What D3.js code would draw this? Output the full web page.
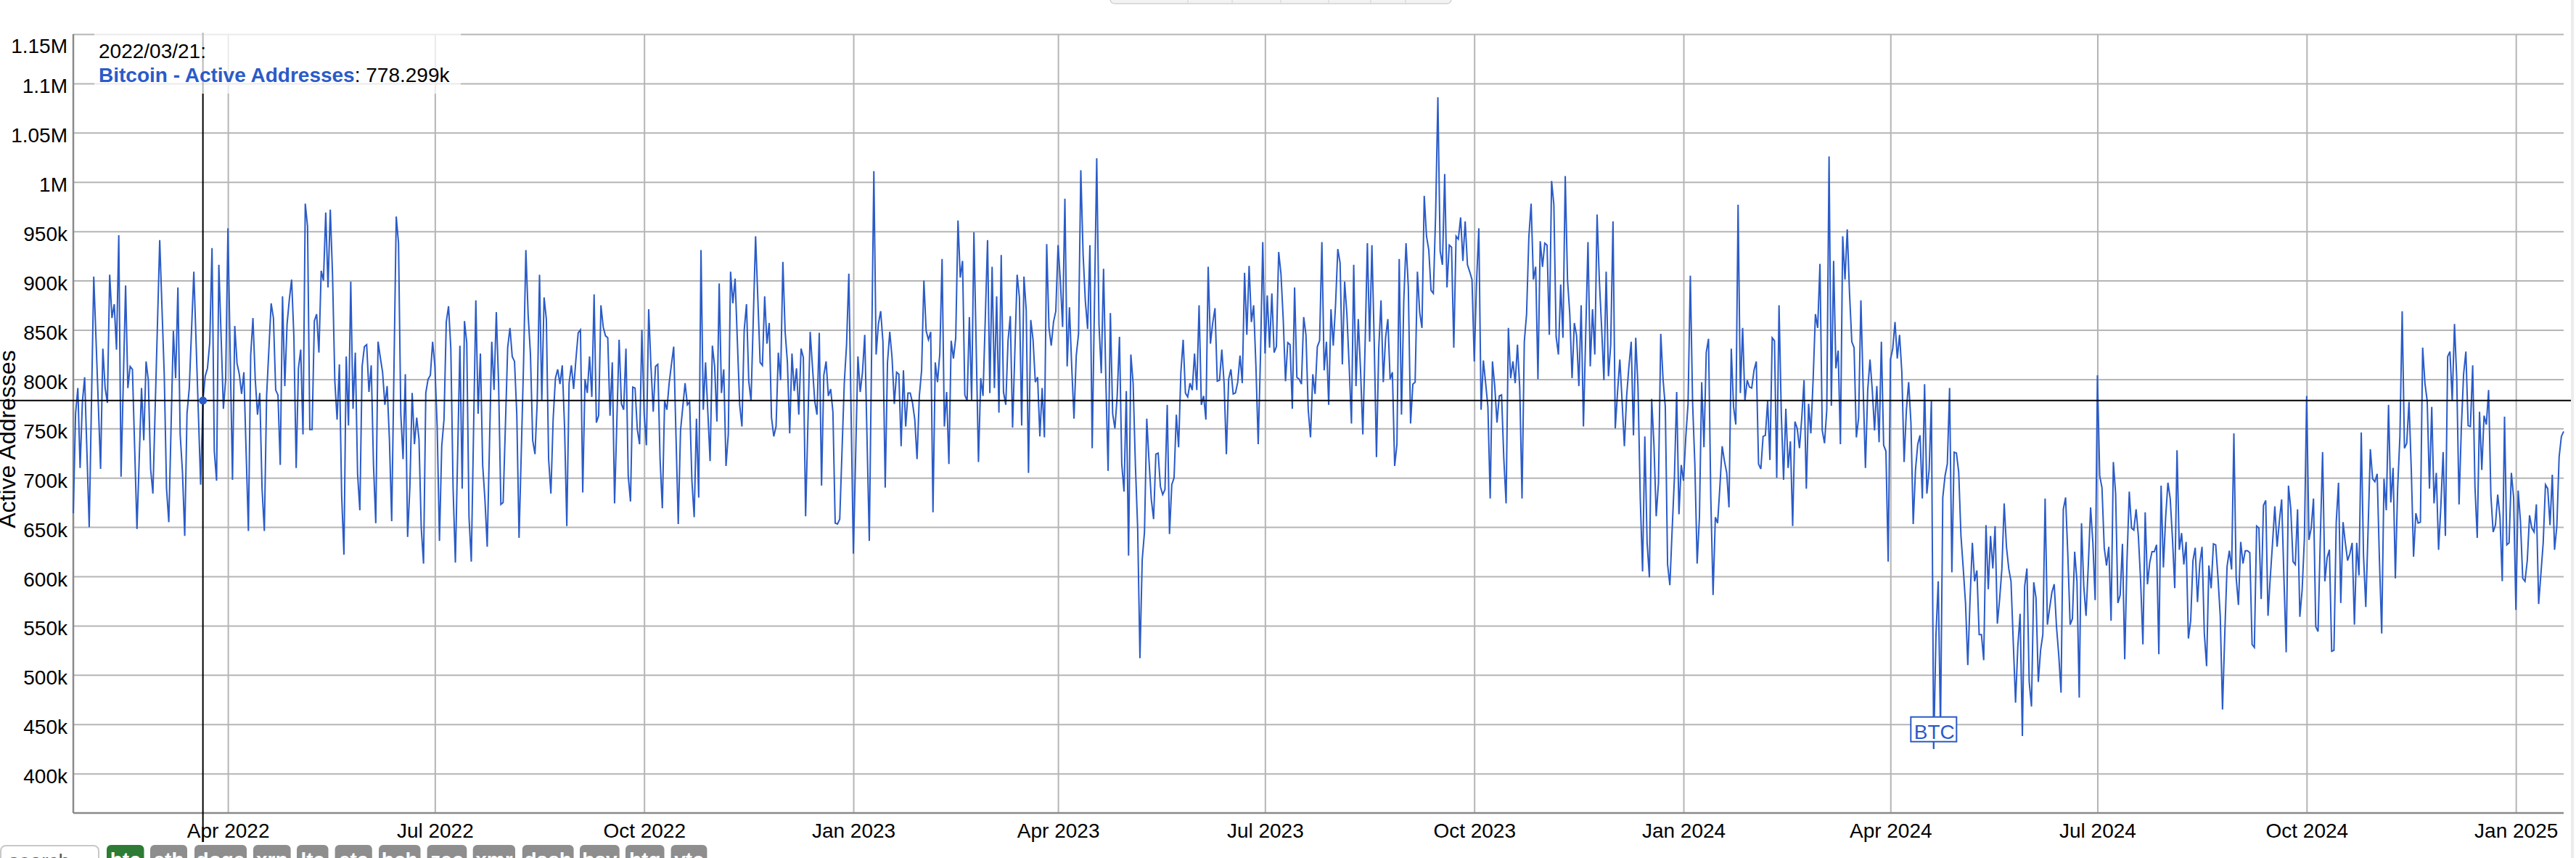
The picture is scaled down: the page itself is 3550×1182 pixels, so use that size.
<!DOCTYPE html>
<html><head><meta charset="utf-8">
<script src="https://cdn.jsdelivr.net/npm/d3@7"></script>
<style>
html,body{margin:0;padding:0;background:#fff;overflow:hidden;}
svg{display:block;font-family:"Liberation Sans",Arial,Helvetica,sans-serif;}
</style></head><body>
<svg id="chart" width="3550" height="1182"></svg>
<script>
// ---------------- DATA ----------------
const startDate = "2022-01-23";          // first daily observation
const seriesName = "Bitcoin - Active Addresses";
const yAxisTitle = "Active Addresses";
// daily active addresses, thousands
const activeAddressesK = [
664,765,791,710,777,802,726,650,777,904,840,775,709,831,791,776,906,862,876,830,
946,701,798,895,791,813,810,729,648,720,791,738,818,799,709,684,770,855,941,872,
804,689,655,752,849,801,893,744,706,641,765,791,850,909,837,765,693,778.299,803,811,
837,933,727,697,916,843,770,800,953,825,698,854,816,805,785,807,726,646,824,862,
800,764,786,689,646,783,830,877,862,789,784,713,884,793,856,881,901,843,710,811,
830,744,978,955,749,749,859,866,827,910,900,969,893,972,905,798,759,815,682,622,
823,753,899,770,827,704,667,813,833,835,787,814,713,654,838,822,807,774,793,739,
656,810,965,938,765,719,805,640,691,786,734,761,739,649,613,786,800,804,838,813,
752,636,732,759,858,874,831,689,614,724,834,689,859,837,660,615,748,880,765,826,
713,678,630,734,838,789,868,796,673,675,753,832,852,823,818,765,639,728,818,931,
865,826,738,724,778,906,778,883,861,719,684,760,801,810,795,814,752,651,796,814,
790,820,847,850,685,800,786,823,782,886,756,763,875,853,844,842,763,817,674,757,
840,775,769,831,702,676,792,791,749,734,850,765,733,871,813,767,813,815,719,669,
778,769,796,815,833,743,653,748,772,796,774,777,697,660,760,680,931,769,817,767,
717,834,813,757,897,786,810,712,744,909,877,902,838,774,752,850,876,798,778,862,
945,881,817,814,884,836,857,761,742,752,827,799,919,848,817,745,826,788,811,764,
831,822,661,755,848,813,778,764,847,692,804,818,783,790,767,654,653,658,727,796,
835,907,765,623,723,823,787,807,845,740,636,824,1011,825,856,869,838,690,817,848,
822,775,807,805,732,809,752,786,786,776,759,719,783,809,900,849,840,848,665,817,
797,826,922,752,787,714,839,821,842,961,903,920,784,778,863,779,949,833,716,801,
783,862,941,786,914,791,884,766,926,787,774,839,864,751,828,906,883,753,904,870,
705,860,840,797,802,742,791,741,937,852,834,858,869,936,900,853,983,813,873,813,
760,824,846,1012,927,879,851,936,730,877,1024,855,806,912,800,707,867,765,750,783,
843,714,686,788,621,825,796,713,649,517,617,645,760,717,678,658,724,725,691,683,
688,774,643,693,700,764,731,807,840,786,782,796,789,826,789,875,774,783,759,914,
836,857,872,798,799,830,796,724,800,810,785,786,797,824,796,908,845,915,858,875,
813,734,823,939,826,885,832,887,827,833,929,907,861,798,837,835,770,893,802,800,
795,863,845,769,741,805,785,833,839,939,809,838,774,871,834,875,932,918,815,899,
866,813,755,916,793,861,809,744,835,938,838,936,839,721,831,880,797,842,861,800,
807,712,734,922,764,879,938,894,755,795,797,909,868,852,986,945,931,890,887,966,
1086,930,916,1008,893,936,934,832,945,942,964,920,960,916,909,901,818,898,953,769,
819,796,772,679,818,793,756,783,784,719,674,852,801,818,796,835,791,679,838,866,
944,978,901,914,800,940,914,938,936,845,1001,977,843,825,896,842,1006,901,866,801,
857,844,793,875,752,846,939,813,871,825,967,900,852,799,909,803,835,960,750,787,
820,778,732,783,813,838,743,842,791,678,605,742,634,599,780,734,661,695,846,800,
772,612,591,647,700,787,663,713,697,741,775,905,776,713,613,660,797,731,827,841,
680,581,660,654,691,732,717,705,670,831,772,754,977,786,852,778,799,792,791,809,
818,714,709,742,743,778,718,842,839,700,875,765,698,770,710,737,651,757,750,730,
761,799,689,775,745,800,866,852,917,748,735,769,1026,773,920,811,829,734,945,901,
952,887,838,832,741,761,880,791,710,789,820,789,748,793,736,838,733,727,615,820,
831,858,821,845,807,716,769,797,756,653,708,734,743,679,795,684,708,778,425,540,
595,445,680,702,714,791,604,726,725,706,641,608,573,510,577,634,595,606,541,541,
515,652,587,641,608,651,552,577,608,674,630,608,595,533,472,529,562,438,590,608,
493,468,594,578,493,525,541,679,551,568,584,592,549,520,482,668,680,621,551,557,
625,595,477,654,590,560,612,670,634,576,804,702,690,629,611,630,555,716,684,573,
581,633,516,616,686,649,647,668,641,595,531,665,592,614,625,625,632,521,692,609,
660,695,679,638,588,728,627,644,612,635,537,555,616,629,574,613,630,542,509,611,
588,633,632,599,560,465,542,610,626,607,745,599,571,635,613,626,626,624,531,528,
651,649,577,672,677,560,599,634,671,630,656,678,599,523,692,669,615,612,668,559,
586,638,783,637,649,679,549,544,638,726,595,619,627,524,525,655,695,573,655,634,
616,623,634,551,634,601,746,621,569,647,729,699,696,704,616,542,699,667,774,675,
710,598,689,742,869,730,735,777,708,620,664,654,655,832,796,778,689,772,674,705,
627,671,726,641,823,828,778,856,800,673,750,805,828,753,752,814,691,639,767,708,
763,754,789,682,645,652,683,660,595,762,632,634,705,680,566,687,656,598,595,616,
662,649,645,673,572,603,634,693,689,652,703,627,651,721,742,747
];
const yRangeK = [360, 1150];
const yTickValuesK = [400,450,500,550,600,650,700,750,800,850,900,950,1000,1050,1100,1150];
const yTickLabels = ["400k","450k","500k","550k","600k","650k","700k","750k","800k","850k","900k","950k","1M","1.05M","1.1M","1.15M"];
const xTickDates = ["2022-04-01","2022-07-01","2022-10-01","2023-01-01","2023-04-01","2023-07-01","2023-10-01","2024-01-01","2024-04-01","2024-07-01","2024-10-01","2025-01-01"];
const xTickLabels = ["Apr 2022","Jul 2022","Oct 2022","Jan 2023","Apr 2023","Jul 2023","Oct 2023","Jan 2024","Apr 2024","Jul 2024","Oct 2024","Jan 2025"];
const highlight = {date: "2022-03-21", label: "2022/03/21:", valueText: "778.299k"};
const annotation = {date: "2024-04-20", text: "BTC"};
const coinButtons = ["btc","eth","doge","xrp","ltc","etc","bch","zec","xmr","dash","bsv","btg","vtc"];
const activeCoin = "btc";

// ---------------- LAYOUT ----------------
const M = {left: 101, right: 3533, top: 47, bottom: 1120};
const BLUE = "#2a5bc8";
const GRID = "#b5b5b5";
const AXIS = "#8a8a8a";

const svg = d3.select("#chart");
const parseDay = d3.utcParse("%Y-%m-%d");
const t0 = parseDay(startDate);
const points = activeAddressesK.map((v, i) => ({date: d3.utcDay.offset(t0, i), value: v}));

const x = d3.scaleUtc().domain(d3.extent(points, d => d.date)).range([M.left, M.right]);
const y = d3.scaleLinear().domain(yRangeK).range([M.bottom, M.top]);

// y grid + labels
svg.append("g").attr("transform", `translate(${M.left},0)`)
  .call(d3.axisLeft(y).tickValues(yTickValuesK).tickFormat((d, i) => yTickLabels[i])
        .tickSize(-(M.right - M.left)).tickPadding(8))
  .call(g => g.select(".domain").remove())
  .call(g => g.selectAll(".tick line").attr("stroke", GRID).attr("stroke-width", 2))
  .call(g => g.selectAll(".tick text").attr("font-size", 28).attr("fill", "#000")
        .attr("dy", null).attr("y", d => d === yRangeK[1] ? 25 : 13));

// x grid + labels
svg.append("g").attr("transform", `translate(0,${M.bottom})`)
  .call(d3.axisBottom(x).tickValues(xTickDates.map(parseDay)).tickFormat((d, i) => xTickLabels[i])
        .tickSize(-(M.bottom - M.top)))
  .call(g => g.select(".domain").remove())
  .call(g => g.selectAll(".tick line").attr("stroke", GRID).attr("stroke-width", 2))
  .call(g => g.selectAll(".tick text").attr("font-size", 28).attr("fill", "#000")
        .attr("dy", null).attr("y", 34));

// axis lines
svg.append("line").attr("x1", M.left).attr("x2", M.left).attr("y1", M.top).attr("y2", M.bottom)
  .attr("stroke", AXIS).attr("stroke-width", 2.5);
svg.append("line").attr("x1", M.left).attr("x2", M.right).attr("y1", M.bottom).attr("y2", M.bottom)
  .attr("stroke", AXIS).attr("stroke-width", 2.5);

// series line
svg.append("path").datum(points)
  .attr("fill", "none").attr("stroke", BLUE).attr("stroke-width", 2)
  .attr("d", d3.line().x(d => x(d.date)).y(d => y(d.value)));

// annotation (BTC flag)
const aDate = parseDay(annotation.date);
const aPt = points.find(p => +p.date === +aDate);
const ax = x(aPt.date), ay = y(aPt.value);
svg.append("line").attr("x1", ax).attr("x2", ax).attr("y1", ay).attr("y2", ay - 10)
  .attr("stroke", BLUE).attr("stroke-width", 2);
svg.append("rect").attr("x", ax - 31.5).attr("y", ay - 44).attr("width", 63).attr("height", 34)
  .attr("fill", "#fff").attr("stroke", BLUE).attr("stroke-width", 2);
svg.append("text").attr("x", ax + 1).attr("y", ay - 14).attr("text-anchor", "middle")
  .attr("font-size", 28).attr("fill", BLUE).text(annotation.text);

// crosshair
const hDate = parseDay(highlight.date);
const hPt = points.find(p => +p.date === +hDate);
const hx = x(hPt.date), hy = y(hPt.value);
svg.append("line").attr("x1", hx).attr("x2", hx).attr("y1", M.top - 2).attr("y2", 1160)
  .attr("stroke", "#000").attr("stroke-width", 2);
svg.append("line").attr("x1", 0).attr("x2", 3543).attr("y1", hy).attr("y2", hy)
  .attr("stroke", "#000").attr("stroke-width", 2);
svg.append("circle").attr("cx", hx).attr("cy", hy).attr("r", 5.5).attr("fill", BLUE);

// legend
svg.append("rect").attr("x", 130).attr("y", 44).attr("width", 505).attr("height", 85)
  .attr("fill", "#fff").attr("fill-opacity", 0.72);
svg.append("text").attr("x", 136).attr("y", 80).attr("font-size", 28).attr("fill", "#000").text(highlight.label);
const lg = svg.append("text").attr("x", 136).attr("y", 113).attr("font-size", 28);
lg.append("tspan").attr("font-weight", "bold").attr("fill", BLUE).text(seriesName);
lg.append("tspan").attr("fill", "#000").text(": " + highlight.valueText);

// y axis title
svg.append("text").attr("transform", "translate(21,605) rotate(-90)")
  .attr("text-anchor", "middle").attr("font-size", 32).attr("fill", "#000").text(yAxisTitle);

// top UI bar
svg.append("rect").attr("x", 1530).attr("y", -20).attr("width", 470).attr("height", 25).attr("rx", 6)
  .attr("fill", "#f3f3f3").attr("stroke", "#d2d2d2").attr("stroke-width", 1.5);
[1637, 1698, 1765, 1831, 1889, 1937].forEach(sx =>
  svg.append("line").attr("x1", sx).attr("x2", sx).attr("y1", 0).attr("y2", 4.5).attr("stroke", "#d2d2d2"));

// right edge strip
svg.append("rect").attr("x", 3543).attr("y", 0).attr("width", 4).attr("height", 1182).attr("fill", "#ececec");

// bottom controls
svg.append("rect").attr("x", 1).attr("y", 1165).attr("width", 135).attr("height", 40).attr("rx", 7)
  .attr("fill", "#fff").attr("stroke", "#c8c8c8").attr("stroke-width", 2);
svg.append("text").attr("x", 12).attr("y", 1196).attr("font-size", 28).attr("fill", "#555").text("search");
const btnX = [[147,198.5],[207,258],[268,340],[349,400.6],[409,452.5],[461.6,512.8],[522,579.5],[588.6,643.3],[651.7,710],[719.8,790.6],[799,853.7],[862,915.5],[924.6,974.4]];
coinButtons.forEach((c, i) => {
  const [a, b] = btnX[i];
  svg.append("rect").attr("x", a).attr("y", 1164).attr("width", b - a).attr("height", 40).attr("rx", 6)
    .attr("fill", c === activeCoin ? "#2e7b36" : "#8e8e8e");
  svg.append("text").attr("x", (a + b) / 2).attr("y", 1194).attr("text-anchor", "middle")
    .attr("font-size", 28).attr("font-weight", "bold").attr("fill", "#fff").text(c);
});
</script>
</body></html>
